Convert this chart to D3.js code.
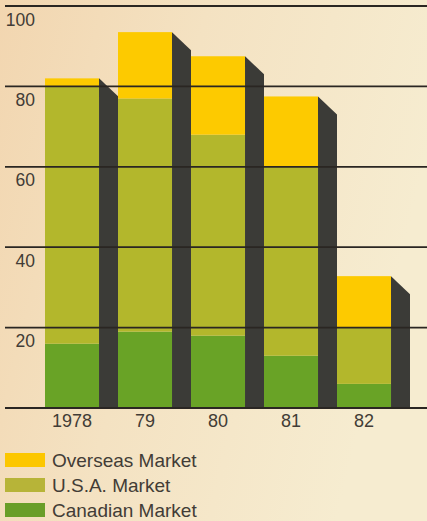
<!DOCTYPE html>
<html>
<head>
<meta charset="utf-8">
<script src="https://cdn.jsdelivr.net/npm/d3@7"></script>
<style>
  html, body { margin: 0; padding: 0; background: #f4e3c2; }
  svg { display: block; }
  text { font-family: "Liberation Sans", Arial, Helvetica, sans-serif; fill: #423c36; }
</style>
</head>
<body>
<svg id="chart" width="427" height="521"></svg>
<script>
// Sales by market, stacked from the bottom: Canadian, U.S.A., Overseas
const years = ["1978", "79", "80", "81", "82"];
const canadian = [16, 19, 18, 13, 6];
const usa = [64, 58, 50, 47, 14];
const overseas = [2, 16.5, 19.5, 17.5, 12.8];
const yTicks = [20, 40, 60, 80, 100];
const seriesNames = ["Canadian Market", "U.S.A. Market", "Overseas Market"];
const seriesColors = ["#69a326", "#b3b72c", "#fdca00"];

const W = 427, H = 521;
const svg = d3.select("#chart");

// Paper background, warmer on the left
const defs = svg.append("defs");
const grad = defs.append("linearGradient").attr("id", "paper")
  .attr("x1", "0").attr("y1", "0").attr("x2", "1").attr("y2", "0.3");
grad.append("stop").attr("offset", "0").attr("stop-color", "#f2d6b0");
grad.append("stop").attr("offset", "0.45").attr("stop-color", "#f4e2c2");
grad.append("stop").attr("offset", "1").attr("stop-color", "#f6ecd0");
svg.append("rect").attr("width", W).attr("height", H).attr("fill", "url(#paper)");

const y = d3.scaleLinear().domain([0, 100]).range([408, 6]);
const x = d3.scaleBand().domain(years).range([45, 410]).paddingInner(0).paddingOuter(0);
const frontW = x.bandwidth() * 0.74;
const sideW = x.bandwidth() - frontW;
const sideDrop = 18;

// Stack the three series
const rows = years.map((yr, i) => ({ year: yr, c: canadian[i], u: usa[i], o: overseas[i] }));
const stack = d3.stack().keys(["c", "u", "o"])(rows);

const bars = svg.append("g");
stack.forEach((layer, li) => {
  bars.selectAll(null).data(layer).enter().append("rect")
    .attr("x", d => x(d.data.year))
    .attr("y", d => y(d[1]))
    .attr("width", frontW)
    .attr("height", d => y(d[0]) - y(d[1]))
    .attr("fill", seriesColors[li]);
});

// Dark shaded side of each column
const topLayer = stack[2];
bars.selectAll(null).data(topLayer).enter().append("path")
  .attr("d", d => {
    const x0 = x(d.data.year) + frontW, x1 = x0 + sideW;
    const t = y(d[1]);
    return `M${x0},${t}L${x1},${t + sideDrop}L${x1},${y(0)}L${x0},${y(0)}Z`;
  })
  .attr("fill", "#3b3b37");

// Gridlines over the columns
const grid = svg.append("g");
grid.selectAll(null).data([0].concat(yTicks)).enter().append("line")
  .attr("x1", 5).attr("x2", W)
  .attr("y1", d => y(d)).attr("y2", d => y(d))
  .attr("stroke", "#2a2622").attr("stroke-width", 1.8);

// Y tick labels, below each gridline
svg.append("g").selectAll(null).data(yTicks).enter().append("text")
  .attr("x", 35).attr("y", d => y(d) + 19.5)
  .attr("text-anchor", "end")
  .attr("font-size", 17.5)
  .text(d => d);

// Year labels under each column face
svg.append("g").selectAll(null).data(years).enter().append("text")
  .attr("x", d => x(d) + frontW / 2).attr("y", 427)
  .attr("text-anchor", "middle")
  .attr("font-size", 18)
  .text(d => d);

// Legend
const legendItems = [
  { name: seriesNames[2], color: "#fcc700" },
  { name: seriesNames[1], color: "#b7b438" },
  { name: seriesNames[0], color: "#699e28" }
];
const lg = svg.append("g").selectAll(null).data(legendItems).enter().append("g")
  .attr("transform", (d, i) => `translate(0,${453 + i * 25})`);
lg.append("rect").attr("x", 5).attr("y", 0).attr("width", 40).attr("height", 14)
  .attr("fill", d => d.color);
lg.append("text").attr("x", 52).attr("y", 13.5)
  .attr("font-size", 19)
  .text(d => d.name);
</script>
</body>
</html>
